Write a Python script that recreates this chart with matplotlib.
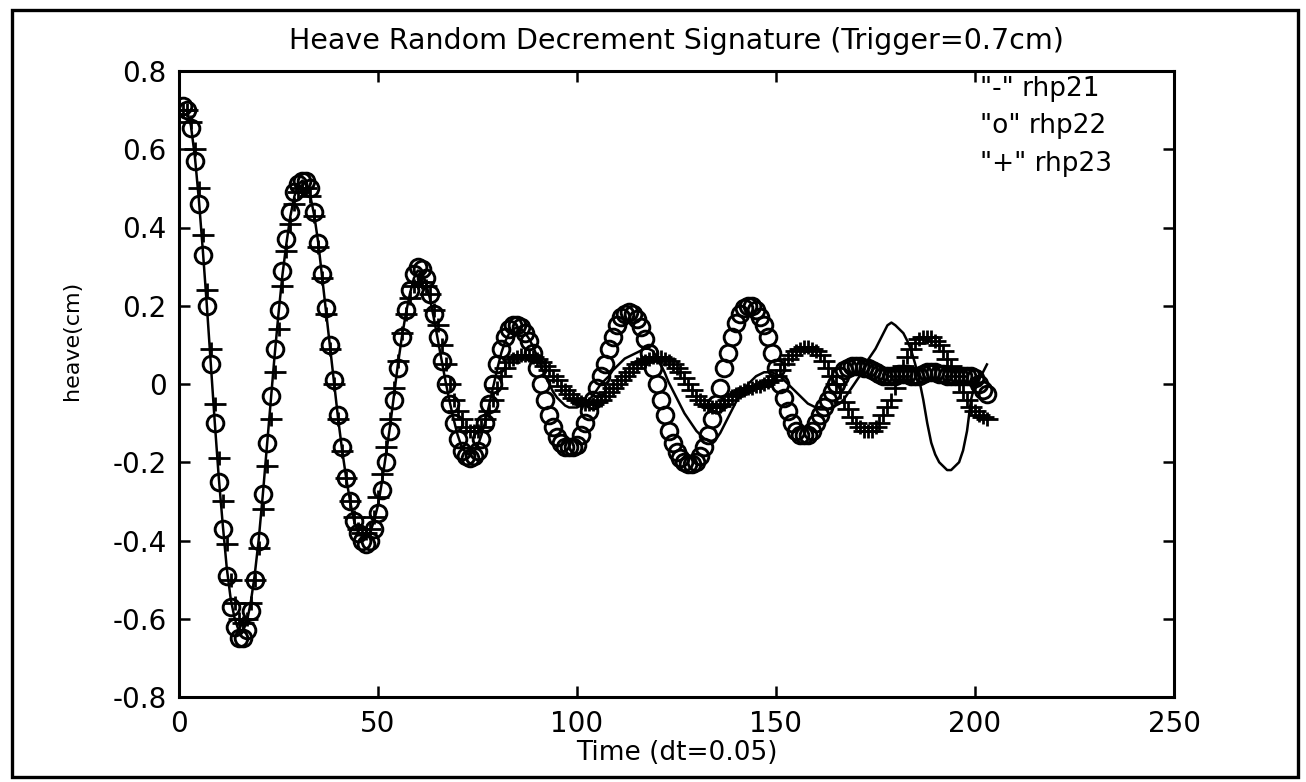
import numpy as np
import matplotlib
matplotlib.use("Agg")
from matplotlib import pyplot as plt
from matplotlib.patches import Rectangle
from matplotlib.path import Path

# ---- data (sample index 1..203) ----
rhp21 = [
    0.70, 0.70, 0.66, 0.58, 0.47, 0.34, 0.20, 0.05, -0.10, -0.24,
    -0.36, -0.47, -0.55, -0.60, -0.63, -0.63, -0.61, -0.56, -0.49, -0.40,
    -0.29, -0.17, -0.05, 0.07, 0.18, 0.28, 0.36, 0.43, 0.48, 0.51,
    0.52, 0.51, 0.48, 0.43, 0.36, 0.27, 0.18, 0.09, 0.00, -0.09,
    -0.17, -0.24, -0.30, -0.35, -0.38, -0.39, -0.39, -0.38, -0.35, -0.31,
    -0.25, -0.18, -0.11, -0.03, 0.05, 0.12, 0.18, 0.23, 0.27, 0.29,
    0.285, 0.26, 0.22, 0.17, 0.115, 0.06, 0.005, -0.045, -0.09, -0.13,
    -0.16, -0.175, -0.18, -0.175, -0.16, -0.13, -0.095, -0.05, -0.005, 0.04,
    0.08, 0.11, 0.13, 0.14, 0.145, 0.14, 0.13, 0.115, 0.095, 0.07,
    0.045, 0.02, 0.0, -0.02, -0.035, -0.045, -0.055, -0.06, -0.06, -0.06,
    -0.055, -0.05, -0.04, -0.03, -0.015, 0.0, 0.01, 0.02, 0.035, 0.045,
    0.055, 0.065, 0.07, 0.075, 0.08, 0.085, 0.09, 0.09, 0.085, 0.07,
    0.05, 0.03, 0.005, -0.015, -0.035, -0.055, -0.075, -0.09, -0.105, -0.12,
    -0.13, -0.14, -0.145, -0.145, -0.14, -0.125, -0.105, -0.085, -0.065, -0.045,
    -0.03, -0.015, 0.0, 0.01, 0.02, 0.025, 0.03, 0.03, 0.03, 0.025,
    0.02, 0.01, 0.0, -0.01, -0.02, -0.03, -0.04, -0.05, -0.055, -0.06,
    -0.065, -0.065, -0.065, -0.06, -0.055, -0.05, -0.04, -0.025, -0.01, 0.005,
    0.02, 0.04, 0.06, 0.075, 0.09, 0.11, 0.13, 0.15, 0.157, 0.15,
    0.14, 0.13, 0.11, 0.085, 0.05, 0.01, -0.04, -0.10, -0.15, -0.18,
    -0.20, -0.21, -0.22, -0.22, -0.21, -0.20, -0.17, -0.12, -0.04, 0.0,
    0.02, 0.03, 0.05,
]
rhp22 = [
    0.71, 0.70, 0.655, 0.57, 0.46, 0.33, 0.20, 0.05, -0.10, -0.25,
    -0.37, -0.49, -0.57, -0.62, -0.65, -0.65, -0.63, -0.58, -0.50, -0.40,
    -0.28, -0.15, -0.03, 0.09, 0.19, 0.29, 0.37, 0.44, 0.49, 0.51,
    0.52, 0.52, 0.50, 0.44, 0.36, 0.28, 0.195, 0.10, 0.01, -0.08,
    -0.16, -0.24, -0.30, -0.35, -0.38, -0.40, -0.41, -0.40, -0.37, -0.33,
    -0.27, -0.20, -0.12, -0.04, 0.04, 0.12, 0.19, 0.24, 0.28, 0.30,
    0.295, 0.27, 0.23, 0.18, 0.12, 0.06, 0.0, -0.05, -0.10, -0.14,
    -0.17, -0.185, -0.19, -0.185, -0.17, -0.14, -0.10, -0.05, 0.0, 0.05,
    0.09, 0.12, 0.14, 0.15, 0.15, 0.145, 0.13, 0.11, 0.08, 0.04,
    0.0, -0.04, -0.08, -0.11, -0.135, -0.15, -0.16, -0.16, -0.16, -0.155,
    -0.13, -0.10, -0.07, -0.04, -0.01, 0.02, 0.05, 0.09, 0.12, 0.15,
    0.17, 0.18, 0.185, 0.18, 0.165, 0.145, 0.115, 0.08, 0.04, 0.0,
    -0.04, -0.08, -0.12, -0.15, -0.175, -0.19, -0.20, -0.205, -0.205, -0.20,
    -0.185, -0.16, -0.13, -0.09, -0.05, -0.01, 0.04, 0.08, 0.12, 0.155,
    0.18, 0.195, 0.20, 0.20, 0.19, 0.17, 0.15, 0.12, 0.08, 0.04,
    0.0, -0.035, -0.07, -0.10, -0.12, -0.13, -0.13, -0.13, -0.12, -0.10,
    -0.08, -0.06, -0.04, -0.02, 0.0, 0.02, 0.035, 0.04, 0.045, 0.045,
    0.045, 0.04, 0.04, 0.035, 0.03, 0.025, 0.02, 0.02, 0.02, 0.02,
    0.025, 0.025, 0.025, 0.02, 0.02, 0.02, 0.025, 0.03, 0.03, 0.03,
    0.025, 0.025, 0.02, 0.02, 0.02, 0.02, 0.02, 0.02, 0.02, 0.015,
    0.0, -0.015, -0.025,
]
rhp23 = [
    0.70, 0.70, 0.67, 0.60, 0.50, 0.38, 0.24, 0.09, -0.05, -0.19,
    -0.30, -0.41, -0.50, -0.56, -0.60, -0.61, -0.60, -0.56, -0.50, -0.42,
    -0.32, -0.21, -0.09, 0.03, 0.14, 0.25, 0.34, 0.41, 0.46, 0.49,
    0.50, 0.50, 0.48, 0.43, 0.35, 0.27, 0.18, 0.09, 0.0, -0.09,
    -0.17, -0.24, -0.30, -0.34, -0.37, -0.38, -0.38, -0.37, -0.34, -0.29,
    -0.23, -0.16, -0.09, -0.01, 0.06, 0.13, 0.18, 0.22, 0.25, 0.26,
    0.26, 0.25, 0.23, 0.19, 0.15, 0.10, 0.05, 0.0, -0.04, -0.07,
    -0.09, -0.11, -0.12, -0.12, -0.12, -0.11, -0.09, -0.07, -0.04, -0.01,
    0.02, 0.04, 0.055, 0.065, 0.07, 0.075, 0.075, 0.075, 0.07, 0.065,
    0.055, 0.045, 0.035, 0.02, 0.01, -0.005, -0.015, -0.025, -0.035, -0.04,
    -0.045, -0.05, -0.05, -0.05, -0.045, -0.04, -0.03, -0.02, -0.01, 0.0,
    0.01, 0.02, 0.03, 0.04, 0.05, 0.055, 0.06, 0.065, 0.07, 0.07,
    0.07, 0.065, 0.06, 0.05, 0.04, 0.03, 0.015, 0.0, -0.015, -0.03,
    -0.04, -0.05, -0.055, -0.06, -0.06, -0.055, -0.05, -0.04, -0.03, -0.025,
    -0.02, -0.015, -0.01, -0.01, -0.005, -0.005, 0.0, 0.005, 0.01, 0.02,
    0.035, 0.05, 0.065, 0.075, 0.085, 0.09, 0.095, 0.095, 0.09, 0.085,
    0.075, 0.06, 0.04, 0.02, 0.0, -0.02, -0.045, -0.065, -0.085, -0.10,
    -0.11, -0.12, -0.12, -0.12, -0.11, -0.10, -0.08, -0.06, -0.04, -0.01,
    0.02, 0.045, 0.07, 0.09, 0.105, 0.115, 0.12, 0.12, 0.12, 0.11,
    0.10, 0.085, 0.065, 0.045, 0.02, 0.0, -0.02, -0.04, -0.06, -0.07,
    -0.08, -0.085, -0.09,
]
t = np.arange(1, len(rhp21) + 1)

xticks = [0, 50, 100, 150, 200, 250]
yticks = [-0.8, -0.6, -0.4, -0.2, 0, 0.2, 0.4, 0.6, 0.8]
ytick_labels = ['-0.8', '-0.6', '-0.4', '-0.2', '0', '0.2', '0.4', '0.6', '0.8']
legend_lines = ['"-" rhp21', '"o" rhp22', '"+" rhp23']

W, H = 1306, 782
fig = plt.figure(figsize=(W / 100, H / 100), dpi=100)
fig.patch.set_facecolor('white')

# outer frame of the figure window
fig.patches.append(Rectangle((12 / W, 1 - 777 / H), (1298 - 12) / W, (777 - 10) / H,
                             transform=fig.transFigure, fill=False, lw=2.4, ec='black'))

ax = fig.add_axes([179 / W, (H - 697) / H, (1174 - 179) / W, (697 - 71) / H])

# wide, flat plus marker like the scan
plus = Path([(-1, 0), (1, 0), (0, -0.6), (0, 0.6)],
            [Path.MOVETO, Path.LINETO, Path.MOVETO, Path.LINETO])

ax.plot(t, rhp21, '-', color='black', lw=1.8)
ax.plot(t, rhp22, 'o', mfc='none', mec='black', ms=12, mew=2.1)
ax.plot(t, rhp23, ls='none', marker=plus, mec='black', ms=16, mew=2.0)

ax.set_xlim(0, 250)
ax.set_ylim(-0.8, 0.8)
ax.set_xticks(xticks)
ax.set_xticklabels([str(v) for v in xticks])
ax.set_yticks(yticks)
ax.set_yticklabels(ytick_labels)
ax.tick_params(direction='in', length=8, width=1.8, top=True, right=True,
               labelsize=20, pad=9)
for s in ax.spines.values():
    s.set_linewidth(2.2)

ax.set_title('Heave Random Decrement Signature (Trigger=0.7cm)', fontsize=20.5, pad=16)
ax.set_xlabel('Time (dt=0.05)', fontsize=19, labelpad=2)
ax.set_ylabel('heave(cm)', fontsize=16)
ax.yaxis.set_label_coords(-0.097, 0.57)

for i, txt in enumerate(legend_lines):
    ax.text(0.805, 0.972 - i * 0.06, txt, transform=ax.transAxes,
            fontsize=19, va='center', ha='left')

fig.savefig('out.png', dpi=100)
